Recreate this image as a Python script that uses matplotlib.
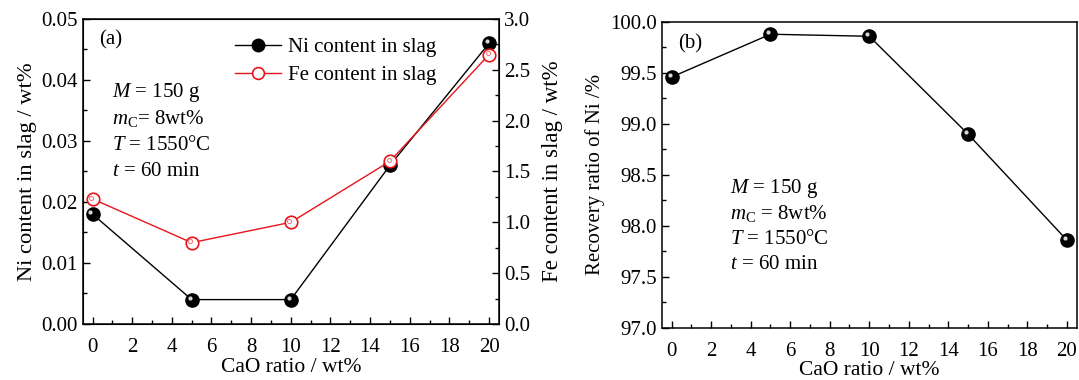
import numpy as np
import matplotlib
matplotlib.use("Agg")
import matplotlib.pyplot as plt
from matplotlib.ticker import MultipleLocator
from matplotlib.transforms import offset_copy
from matplotlib.lines import Line2D

plt.rcParams['font.family'] = ['Liberation Serif', 'DejaVu Serif']
plt.rcParams['mathtext.fontset'] = 'custom'
plt.rcParams['mathtext.rm'] = 'Liberation Serif'
plt.rcParams['mathtext.it'] = 'Liberation Serif:italic'
plt.rcParams['font.size'] = 15

# --- data ---
cao = [0, 5, 10, 15, 20]
ni_slag = [0.018, 0.004, 0.004, 0.026, 0.046]
fe_slag = [1.23, 0.80, 1.00, 1.60, 2.65]
ni_recovery = [99.46, 99.88, 99.86, 98.90, 97.86]

cond_lines = [r'$M$ = 150 g', r'$m_{\mathrm{C}}$= 8wt%', r'$T$ = 1550°C', r'$t$ = 60 min']
cond_lines_b = [r'$M$ = 150 g', r'$m_{\mathrm{C}}$ = 8wt%', r'$T$ = 1550°C', r'$t$ = 60 min']

RED = '#e8141a'


def sphere(ax, x, y):
    # black ball with a small light highlight
    ax.plot(x, y, 'o', color='black', markersize=9.5, zorder=5)
    hl = offset_copy(ax.transData, fig=ax.figure, x=-1.5, y=1.5, units='points')
    ax.plot(x, y, 'o', color='#d8d8d8', markersize=3, markeredgewidth=0,
            transform=hl, zorder=6)


def ring(ax, x, y):
    ax.plot(x, y, 'o', mfc='white', mec=RED, mew=1.2, markersize=9, zorder=5)
    hl = offset_copy(ax.transData, fig=ax.figure, x=-1.0, y=1.0, units='points')
    ax.plot(x, y, 'o', mfc='none', mec='#f08080', mew=0.8, markersize=3,
            transform=hl, zorder=6)


def style_ticks(ax):
    ax.tick_params(which='major', direction='in', length=5, width=1, labelsize=15,
                   top=False, right=False)
    ax.tick_params(axis='x', which='major', pad=10)
    ax.tick_params(which='minor', direction='in', length=3, width=1, top=False, right=False)
    for s in ax.spines.values():
        s.set_linewidth(1.1)


fig = plt.figure(figsize=(10.79, 3.8), dpi=100)

# ---------------- (a) ----------------
ax1 = fig.add_axes([0.0766, 0.1474, 0.3858, 0.8026])
ax1.plot(cao, ni_slag, '-', color='black', lw=1.0, zorder=3)
sphere(ax1, cao, ni_slag)
ax1.set_xlim(-0.5, 20.5)
ax1.set_ylim(0, 0.05)
ax1.xaxis.set_major_locator(MultipleLocator(2))
ax1.xaxis.set_minor_locator(MultipleLocator(1))
ax1.yaxis.set_major_locator(MultipleLocator(0.01))
ax1.yaxis.set_minor_locator(MultipleLocator(0.005))
ax1.yaxis.set_major_formatter(plt.FuncFormatter(lambda v, p: f'{v:.2f}'))
style_ticks(ax1)
ax1.set_xlabel('CaO ratio / wt%', fontsize=15.5, labelpad=1)
ax1.set_ylabel('Ni content in slag / wt%', fontsize=16.2, labelpad=3)

ax1b = ax1.twinx()
ax1b.plot(cao, fe_slag, '-', color=RED, lw=1.0, zorder=3)
ring(ax1b, cao, fe_slag)
ax1b.set_ylim(0, 3.0)
ax1b.yaxis.set_major_locator(MultipleLocator(0.5))
ax1b.yaxis.set_minor_locator(MultipleLocator(0.25))
ax1b.yaxis.set_major_formatter(plt.FuncFormatter(lambda v, p: f'{v:.1f}'))
ax1b.tick_params(which='major', direction='in', length=5, width=1, labelsize=15,
                 left=False, right=True, top=False)
ax1b.tick_params(which='minor', direction='in', length=3, width=1, left=False, right=True, top=False)
ax1b.set_ylabel('Fe content in slag / wt%', fontsize=16.5, labelpad=9)

# legend (built by hand so both handles sit in one box)
h_ni = Line2D([], [], color='black', lw=1.0, marker='o', markersize=9, mfc='black', mec='black')
h_fe = Line2D([], [], color=RED, lw=1.0, marker='o', markersize=8.5, mfc='white',
              mec=RED, mew=1.2)
ax1.legend([h_ni, h_fe], ['Ni content in slag', 'Fe content in slag'], loc='upper left',
           bbox_to_anchor=(0.336, 0.98), frameon=False, fontsize=15, handlelength=2.2,
           handletextpad=0.35, labelspacing=0.4, borderaxespad=0.2)

ax1.text(0.04, 0.93, '(a)', transform=ax1.transAxes, fontsize=15, va='center')
for i, s in enumerate(cond_lines):
    ax1.text(0.07, 0.76 - i * 0.087, s, transform=ax1.transAxes, fontsize=15, va='center')

# ---------------- (b) ----------------
ax2 = fig.add_axes([0.6133, 0.1376, 0.3846, 0.8045])
ax2.plot(cao, ni_recovery, '-', color='black', lw=1.0, zorder=3)
sphere(ax2, cao, ni_recovery)
ax2.set_xlim(-0.5, 20.5)
ax2.set_ylim(97.0, 100.0)
ax2.xaxis.set_major_locator(MultipleLocator(2))
ax2.xaxis.set_minor_locator(MultipleLocator(1))
ax2.yaxis.set_major_locator(MultipleLocator(0.5))
ax2.yaxis.set_minor_locator(MultipleLocator(0.25))
ax2.yaxis.set_major_formatter(plt.FuncFormatter(lambda v, p: f'{v:.1f}'))
style_ticks(ax2)
ax2.set_xlabel('CaO ratio / wt%', fontsize=15.5, labelpad=0)
ax2.set_ylabel('Recovery ratio of Ni /%', fontsize=15, labelpad=4)

ax2.text(0.04, 0.93, '(b)', transform=ax2.transAxes, fontsize=15, va='center')
for i, s in enumerate(cond_lines_b):
    ax2.text(0.165, 0.455 - i * 0.083, s, transform=ax2.transAxes, fontsize=15, va='center')

fig.savefig('out.png', dpi=100)
